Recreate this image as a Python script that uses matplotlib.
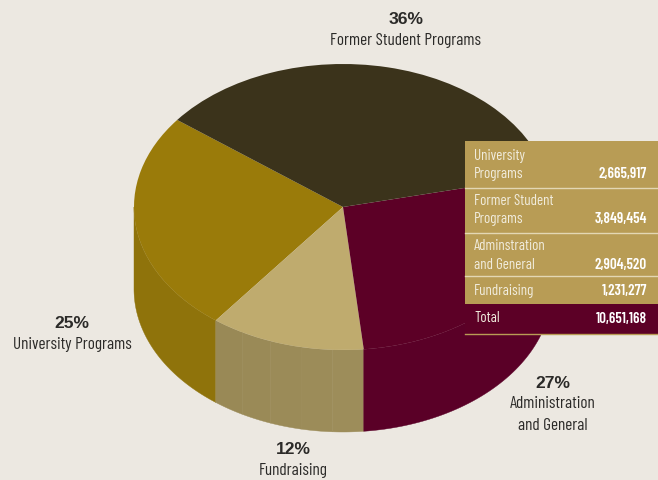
import numpy as np
import matplotlib
matplotlib.use('Agg')
import matplotlib.pyplot as plt
from matplotlib.patches import Rectangle, Polygon

# slices, counter-clockwise from the University / Former Student boundary
slice_names = ['University Programs', 'Fundraising', 'Administration and General', 'Former Student Programs']
slice_pct = [25, 12, 27, 36]
top_colors = ['#9A7B0A', '#BFAB6E', '#5C0026', '#3B331B']
side_colors = ['#8F730B', '#9B8B58', '#5A0027', '#3B331B']

# table
row_labels = ['University\nPrograms', 'Former Student\nPrograms', 'Adminstration\nand General', 'Fundraising']
row_values = ['2,665,917', '3,849,454', '2,904,520', '1,231,277']
total_label = 'Total'
total_value = '10,651,168'

W, H = 658, 480
BG = '#ECE8E1'
GOLD = '#B89C55'
NARROW = ['Barlow Condensed', 'Liberation Sans', 'DejaVu Sans']
BOLD = ['Liberation Sans', 'DejaVu Sans']

# pie geometry in pixels
cx, cy = 343, 207
rx, ry = 209, 143
depth = 82
start = 142.5

fig = plt.figure(figsize=(W / 100, H / 100), dpi=100, facecolor=BG)
ax = fig.add_axes([0, 0, 1, 1])

# side wall, only the front half of the cylinder shows
angles = start + 360 * np.cumsum([0] + slice_pct) / sum(slice_pct)
for i in range(len(slice_pct)):
    a0 = max(angles[i], 180)
    a1 = min(angles[i + 1], 360)
    if a1 <= a0:
        continue
    n_parts = 5 if slice_names[i] == 'Fundraising' else 1
    edges = np.linspace(a0, a1, n_parts + 1)
    for j in range(n_parts):
        t = np.radians(np.linspace(edges[j], edges[j + 1], 60))
        x = rx * np.cos(t)
        y = ry * np.sin(t)
        pts = np.r_[np.c_[x, y], np.c_[x[::-1], y[::-1] - depth]]
        col = np.array(matplotlib.colors.to_rgb(side_colors[i]))
        if n_parts > 1:
            col = col + (j - 2) * 0.004
        ax.add_patch(Polygon(pts / [rx, ry] + [cx / rx, -cy / ry],
                             closed=True, fc=col, ec=col, lw=0.3, zorder=1))

# top face
ax.pie(slice_pct, colors=top_colors, startangle=start, counterclock=True,
       center=(cx / rx, -cy / ry), radius=1, frame=True,
       wedgeprops={'linewidth': 0.3, 'edgecolor': 'none'})
for w in ax.patches[-4:]:
    w.set_zorder(2)

ax.set_aspect('auto')
ax.set_xlim(0, W / rx)
ax.set_ylim(-H / ry, 0)
ax.axis('off')

# pixel coordinates for the annotations
tx = fig.add_axes([0, 0, 1, 1], facecolor='none')
tx.set_xlim(0, W)
tx.set_ylim(H, 0)
tx.axis('off')

tx.add_patch(Rectangle((465, 141), 193, 163, fc=GOLD, ec='none'))
tx.add_patch(Rectangle((465, 304), 193, 30, fc='#5C0026', ec='none'))
for yy in [188, 233, 276]:
    tx.plot([465, 658], [yy, yy], color='#E3D7B4', lw=1)
tx.plot([465, 658], [334, 334], color=GOLD, lw=1)

label_y = [[156, 174], [201, 219], [246, 265], [291.5]]
for lab, val, ys in zip(row_labels, row_values, label_y):
    for part, yy in zip(lab.split('\n'), ys):
        tx.text(474, yy, part, color='#F1ECDD', fontsize=10.8, family=NARROW, va='center', ha='left')
    tx.text(647, ys[-1], val, color='white', fontsize=10.8, family=NARROW, fontweight='semibold', va='center', ha='right')
tx.text(474, 318.5, total_label, color='#F1ECDD', fontsize=10.8, family=NARROW, va='center', ha='left')
tx.text(647, 318.5, total_value, color='white', fontsize=10.8, family=NARROW, fontweight='semibold', va='center', ha='right')

pct = [f'{v}%' for v in slice_pct]
callouts = [(72, 324, ['University Programs']),
            (293, 449, ['Fundraising']),
            (553, 383, ['Administration', 'and General']),
            (406, 20, ['Former Student Programs'])]
for p, (x, y, lines) in zip(pct, callouts):
    tx.text(x, y, p, color='#2B2A28', fontsize=12.6, family=BOLD, fontweight='bold', ha='center', va='center')
    for k, line in enumerate(lines):
        tx.text(x, y + 21 + k * 21, line, color='#2B2A28', fontsize=12.4, family=NARROW, ha='center', va='center')

fig.savefig('out.png', dpi=100, facecolor=BG)
